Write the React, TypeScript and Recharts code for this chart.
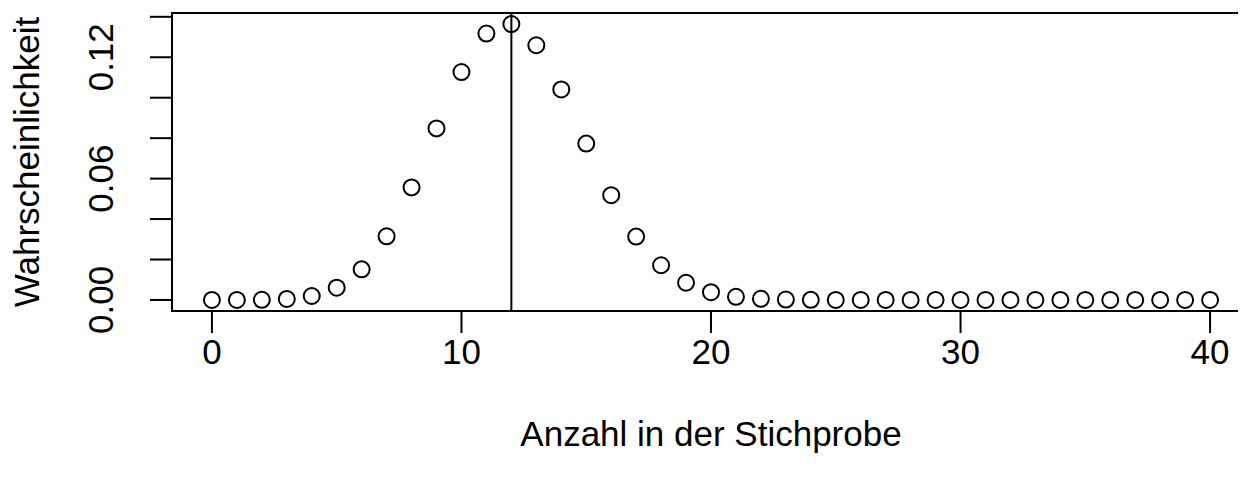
import React from "react";
import {
  LineChart,
  Line,
  XAxis,
  YAxis,
  ReferenceLine,
  ReferenceArea,
} from "recharts";

const counts: number[] = [
  0, 1, 2, 3, 4, 5, 6, 7, 8, 9, 10, 11, 12, 13, 14, 15, 16, 17, 18, 19, 20,
  21, 22, 23, 24, 25, 26, 27, 28, 29, 30, 31, 32, 33, 34, 35, 36, 37, 38, 39, 40,
];
const probabilities: number[] = [
  0.0000006, 0.000011, 0.000091, 0.000495, 0.00196, 0.00605, 0.01513, 0.03149,
  0.05566, 0.08482, 0.11269, 0.13171, 0.13642, 0.12593, 0.10408, 0.07732,
  0.05178, 0.03133, 0.01716, 0.00851, 0.00383, 0.00156, 0.00058, 0.000194,
  0.000059, 0.000016, 0.000004, 0.000001, 0, 0, 0, 0, 0, 0, 0, 0, 0, 0, 0, 0, 0,
];
const xTicks: number[] = [0, 10, 20, 30, 40];
const yTicks: number[] = [0, 0.02, 0.04, 0.06, 0.08, 0.1, 0.12, 0.14];
const yLabelled: number[] = [0, 0.06, 0.12];
const markerX = 12;
const xLabel = "Anzahl in der Stichprobe";
const yLabel = "Wahrscheinlichkeit";

const X_MIN = -1.6;
const X_MAX = 41.6;
const Y_MIN = -0.005457;
const Y_MAX = 0.14188;

const data = counts.map((k, i) => ({ k, p: probabilities[i] }));

const FONT = "'Liberation Sans', Arial, Helvetica, sans-serif";
const FS = 35;

const XTick = (props: any) => {
  const { x, y, payload } = props;
  return (
    <text x={x} y={y + 29} textAnchor="middle" fontFamily={FONT} fontSize={FS} fill="#000">
      {String(payload.value)}
    </text>
  );
};

const YTick = (props: any) => {
  const { x, y, payload } = props;
  const v = Number(payload.value);
  const show = yLabelled.some((t) => Math.abs(t - v) < 1e-9);
  if (!show) return <g />;
  const bx = x - 35;
  return (
    <text
      x={bx}
      y={y}
      transform={`rotate(-90, ${bx}, ${y})`}
      textAnchor="middle"
      fontFamily={FONT}
      fontSize={FS}
      fill="#000"
    >
      {v.toFixed(2)}
    </text>
  );
};

const XTitle = (props: any) => {
  const vb = props.viewBox || {};
  return (
    <text
      x={vb.x + vb.width / 2}
      y={vb.y + 135}
      textAnchor="middle"
      fontFamily={FONT}
      fontSize={FS}
      fill="#000"
    >
      {xLabel}
    </text>
  );
};

const YTitle = (props: any) => {
  const vb = props.viewBox || {};
  const cx = 30.5;
  const cy = vb.y + vb.height / 2;
  return (
    <text
      x={cx}
      y={cy}
      transform={`rotate(-90, ${cx}, ${cy})`}
      textAnchor="middle"
      fontFamily={FONT}
      fontSize={FS}
      fill="#000"
    >
      {yLabel}
    </text>
  );
};

export default function App() {
  return (
    <div style={{ width: 1238, height: 473, overflow: "hidden" }}>
      <LineChart
        width={1260}
        height={473}
        data={data}
        margin={{ top: 5, right: 18, bottom: 0, left: 0 }}
      >
        <XAxis
          dataKey="k"
          type="number"
          domain={[X_MIN, X_MAX]}
          ticks={xTicks}
          allowDataOverflow
          axisLine={false}
          tickSize={22}
          tickMargin={2}
          tickLine={{ stroke: "#000", strokeWidth: 2 }}
          tick={<XTick />}
          height={170}
          interval={0}
          label={<XTitle />}
        />
        <YAxis
          type="number"
          domain={[Y_MIN, Y_MAX]}
          ticks={yTicks}
          allowDataOverflow
          axisLine={false}
          tickSize={22}
          tickMargin={2}
          tickLine={{ stroke: "#000", strokeWidth: 2 }}
          tick={<YTick />}
          width={164}
          interval={0}
          label={<YTitle />}
        />
        <ReferenceArea
          x1={X_MIN}
          x2={X_MAX}
          y1={Y_MIN}
          y2={Y_MAX}
          fill="none"
          fillOpacity={0}
          stroke="#000"
          strokeWidth={2}
          ifOverflow="visible"
        />
        <ReferenceLine x={markerX} stroke="#000" strokeWidth={2} />
        <Line
          dataKey="p"
          stroke="none"
          strokeWidth={0}
          isAnimationActive={false}
          dot={{ r: 8, fill: "none", stroke: "#000", strokeWidth: 2 }}
          activeDot={false}
        />
      </LineChart>
    </div>
  );
}
